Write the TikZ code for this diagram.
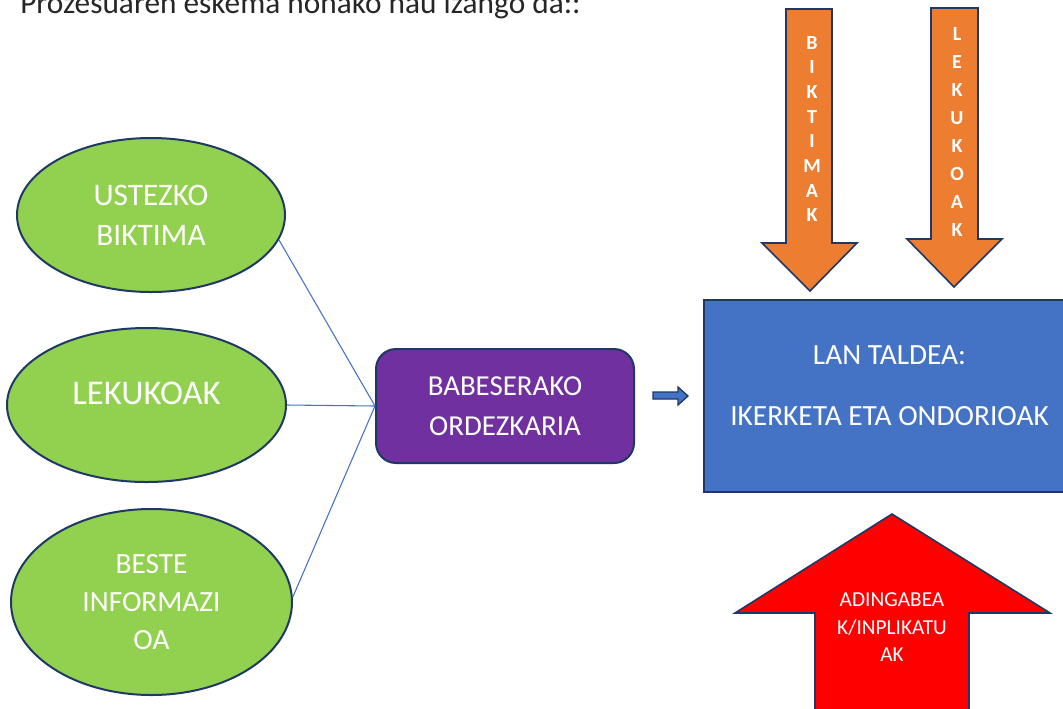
\documentclass[tikz,border=0pt]{standalone}
\usepackage{fontspec}
\setmainfont{Carlito}
\usetikzlibrary{shapes.geometric}
\definecolor{navy}{HTML}{1F3864}
\definecolor{lgreen}{HTML}{92D050}
\definecolor{purp}{HTML}{7030A0}
\definecolor{bblue}{HTML}{4472C4}
\definecolor{orng}{HTML}{ED7D31}
\definecolor{titlegray}{HTML}{262626}
\tikzset{
  oval/.style={ellipse, draw=navy, line width=1.5pt, fill=lgreen, inner sep=0pt, text=white, align=center},
  pbox/.style={rectangle, rounded corners=15pt, draw=navy, line width=1.5pt, fill=purp, inner sep=0pt, text=white, align=center},
  blk/.style={draw=navy, line width=1.2pt, line join=miter},
  wtext/.style={text=white, align=center, inner sep=0pt},
  link/.style={draw=bblue, line width=0.8pt},
}
\begin{document}
\begin{tikzpicture}[x=0.75pt, y=-0.75pt]
\clip (0,0) rectangle (1063,708);
\fill[white] (0,0) rectangle (1063,708);
% title
\node[anchor=base west, inner sep=0pt, text=titlegray, font=\fontsize{23.5}{28}\selectfont] (title) at (20,13.5) {Prozesuaren eskema honako hau izango da::};
% ellipses
\node[oval, minimum width=201pt, minimum height=115.5pt, font=\fontsize{23.5}{30}\selectfont] (e1) at (151,215) {USTEZKO\\BIKTIMA};
\node[oval, minimum width=209.25pt, minimum height=115.5pt] (e2) at (146.5,405) {};
\node[wtext, font=\fontsize{26}{30}\selectfont] (e2t) at (146.5,393) {LEKUKOAK};
\node[oval, minimum width=210.75pt, minimum height=139.5pt, font=\fontsize{22}{28.5}\selectfont] (e3) at (151.5,602) {BESTE\\INFORMAZI\\OA};
% purple box
\node[pbox, minimum width=193.5pt, minimum height=85.5pt, font=\fontsize{21.7}{30}\selectfont] (p) at (505,406) {BABESERAKO\\ORDEZKARIA};
% connectors
\draw[link] (e1.-11) -- (p.west);
\draw[link] (e2.east) -- (p.west);
\draw[link] (e3.2) -- (p.west);
% small arrow
\draw[blk, fill=bblue, line width=1pt] (653,392) -- (678,392) -- (678,387) -- (688,396) -- (678,405) -- (678,399) -- (653,399) -- cycle;
% blue box
\draw[blk, fill=bblue, line width=1.5pt] (704,300) rectangle (1080,492);
\node[wtext, font=\fontsize{22}{26}\selectfont] (lan) at (889.5,355) {LAN TALDEA:};
\node[wtext, font=\fontsize{22}{26}\selectfont] (iker) at (889.5,416) {IKERKETA ETA ONDORIOAK};
% orange arrows
\draw[blk, fill=orng] (786,9) -- (832,9) -- (832,243) -- (857,243) -- (810,291) -- (762,243) -- (786,243) -- cycle;
\draw[blk, fill=orng] (931,8) -- (978,8) -- (978,239) -- (1002,239) -- (954,287) -- (907,239) -- (931,239) -- cycle;
\node[wtext, font=\fontsize{15}{18.5}\bfseries\selectfont] (bikt) at (812,129) {B\\I\\K\\T\\I\\M\\A\\K};
\node[wtext, font=\fontsize{15}{21}\bfseries\selectfont] (leku) at (957,132.5) {L\\E\\K\\U\\K\\O\\A\\K};
% red arrow
\draw[blk, fill=red] (892,514) -- (1050,613) -- (969,613) -- (969,720) -- (815,720) -- (815,613) -- (735,613) -- cycle;
\node[wtext, font=\fontsize{16}{20.6}\selectfont] (adin) at (892,627.5) {ADINGABEA\\K/INPLIKATU\\AK};
\end{tikzpicture}
\end{document}
